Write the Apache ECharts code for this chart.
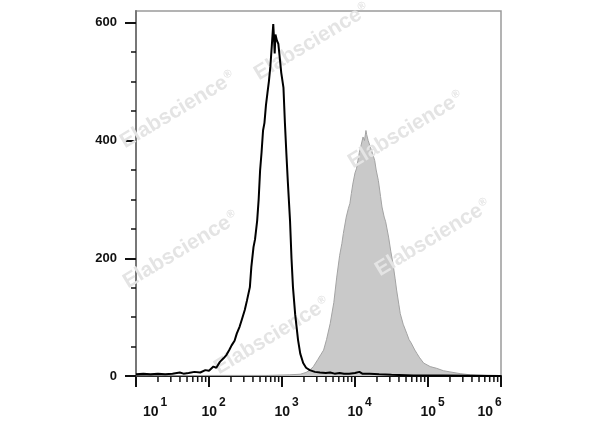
<!DOCTYPE html>
<html><head><meta charset="utf-8">
<script src="https://cdn.jsdelivr.net/npm/echarts@6/dist/echarts.min.js"></script>
<style>html,body{margin:0;padding:0;background:#fff}#c{width:600px;height:427px}</style>
</head><body><div id="c"></div>
<script>
// Black histogram (control) : fluorescence intensity -> count
const blackX = [10,12.6,15.8,20,25.1,31.6,39.8,44.7,52.5,63.1,75.9,89.1,100,115,126,141,158,174,191,204,224,240,263,282,309,331,363,380,407,427,457,479,501,525,550,575,603,631,661,692,724,759,776,794,813,851,891,933,977,1047,1096,1148,1202,1288,1349,1413,1514,1660,1778,1950,2138,2399,2818,3311,3981,4571,5248,6166,7079,8318,10000,11482,12589,15849,21380,31623,63096,158489,1000000];
const blackY = [3,4,3,4,3,4,6,4,5,7,6,10,9,16,14,24,30,36,45,52,60,72,84,96,112,128,151,185,219,232,264,300,349,380,417,430,460,480,500,525,560,598,575,548,580,570,564,540,515,490,430,378,330,264,200,151,105,61,38,22,14,10,7,6,5,6,4,5,4,4,5,7,4,4,3,2,1,1,0];
// Gray filled histogram (stained)
const grayX = [10,100,631,1259,1778,2138,2399,2692,3090,3388,3715,4074,4571,5129,5623,6166,6607,6918,7586,8128,8511,8913,9333,10000,10471,10965,11482,12023,12882,13490,14125,14454,15136,16218,17378,18621,19498,20893,22387,23442,25119,26303,28840,30903,33113,35481,37154,39811,41687,45709,51286,54954,58884,66069,70795,75858,87096,100000,107152,131826,162181,199526,275423,380189,602560,1000000];
const grayY = [0,1,1,2,3,6,10,16,28,36,44,62,89,125,168,205,225,242,270,285,293,310,326,345,352,366,380,390,406,400,417,410,400,389,378,366,350,332,305,287,270,262,236,212,191,165,146,122,106,88,72,62,56,44,38,32,22,18,16,13,9,7,4,2,1,0];

const xTickValues = [10,100,1000,10000,100000,1000000];
const xTickExponents = ['1','2','3','4','5','6'];
const xMinorMultipliers = [2,3,4,5,6,7,8,9];
const xMinorTickValues = [];
xTickValues.slice(0,-1).forEach(d => xMinorMultipliers.forEach(m => xMinorTickValues.push(d*m)));
const yTickValues = [0,200,400,600];
const yTickLabels = ['0','200','400','600'];
const yMinorTickValues = [50,100,150,250,300,350,450,500,550];
const watermarkWord = 'Elabscience';
const watermarkMark = '®';
const watermarkCenters = [[312,42],[178,110],[406,130],[181,250],[433,238],[272,336]];

const chart = echarts.init(document.getElementById('c'), null, {renderer:'canvas'});
const FONT = 'Arial, "Liberation Sans", sans-serif';

function xFmt(value){
  let i = xTickValues.findIndex(v => Math.abs(Math.log10(v/value)) < 1e-6);
  if (i < 0) return '';
  const e = xTickExponents[i];
  if (i === 0) return '{pl0| }{b|10}{s|' + e + '}';
  if (i === xTickValues.length-1) return '{b|10}{s|' + e + '}{pr| }';
  return '{pl| }{b|10}{s|' + e + '}';
}

const gridRect = {left:136, right:99, top:11, bottom:51};

const option = {
  animation: false,
  backgroundColor: '#fff',
  grid: [
    Object.assign({show:true, borderColor:'#9a9a9a', borderWidth:1.5}, gridRect),
    Object.assign({}, gridRect)
  ],
  xAxis: [{
    gridIndex:0, type:'log', logBase:10, min:10, max:1000000,
    axisLine:{show:true, lineStyle:{color:'#111', width:2}},
    axisTick:{show:true, inside:false, length:11, lineStyle:{color:'#111', width:2}},
    axisLabel:{show:true, margin:21, formatter:xFmt,
      rich:{
        b:{fontSize:14, fontWeight:'bold', fontFamily:FONT, color:'#111', lineHeight:14, padding:[8,0,0,0]},
        s:{fontSize:12, fontWeight:'bold', fontFamily:FONT, color:'#111', lineHeight:12, padding:[0,0,10,2]},
        pl:{width:9, lineHeight:22, fontSize:1},
        pl0:{width:38, lineHeight:22, fontSize:1},
        pr:{width:23, lineHeight:22, fontSize:1}
      }},
    splitLine:{show:false}
  },{
    gridIndex:1, type:'log', logBase:10, min:10, max:1000000, position:'bottom',
    axisLine:{show:false}, axisTick:{show:false}, axisLabel:{show:false}, splitLine:{show:false}
  }],
  yAxis: [{
    gridIndex:0, type:'value', min:0, max:620,
    axisLine:{show:true, lineStyle:{color:'#777', width:2}},
    axisTick:{show:true, length:11, customValues:yTickValues, lineStyle:{color:'#111', width:2}},
    axisLabel:{show:true, margin:19, customValues:yTickValues, fontSize:13, fontWeight:'bold', fontFamily:FONT, color:'#111',
      formatter: v => yTickLabels[yTickValues.indexOf(v)] ?? ''},
    splitLine:{show:false}
  },{
    gridIndex:1, type:'value', min:0, max:620, position:'left',
    axisLine:{show:false},
    axisTick:{show:true, length:5, customValues:yMinorTickValues, lineStyle:{color:'#111', width:1.5}},
    axisLabel:{show:false}, splitLine:{show:false}
  }],
  graphic: watermarkCenters.map(c => ({
    type:'text', x:c[0], y:c[1], rotation:0.54, z:5,
    style:{text:'{a|' + watermarkWord + '}{r|' + watermarkMark + '}', align:'center', verticalAlign:'middle',
      rich:{
        a:{fill:'#e4e4e4', font:'bold 21px ' + FONT, lineHeight:24},
        r:{fill:'#e4e4e4', font:'bold 11px ' + FONT, lineHeight:24, padding:[0,0,10,1]}
      }}
  })),
  series: [{
    type:'line', name:'stained', xAxisIndex:0, yAxisIndex:0, z:1,
    data: grayX.map((x,i) => [x, grayY[i]]),
    showSymbol:false, symbol:'none',
    lineStyle:{color:'#a3a3a3', width:1},
    areaStyle:{color:'#c9c9c9', opacity:1}
  },{
    type:'line', name:'control', xAxisIndex:0, yAxisIndex:0, z:10,
    data: blackX.map((x,i) => [x, blackY[i]]),
    showSymbol:false, symbol:'none',
    lineStyle:{color:'#000', width:2}
  },{
    // minor log ticks of the x axis, placed through the axis scale
    type:'custom', name:'minorTicks', xAxisIndex:0, yAxisIndex:0, z:0, silent:true, clip:false,
    data: xMinorTickValues.map(v => [v, 0]),
    encode:{x:0, y:1},
    renderItem: function(params, api){
      const p = api.coord([api.value(0), 0]);
      return {type:'line', silent:true,
        shape:{x1:p[0], y1:p[1]+1, x2:p[0], y2:p[1]+6},
        style:{stroke:'#111', lineWidth:1.5}};
    }
  }]
};
chart.setOption(option);
</script></body></html>
